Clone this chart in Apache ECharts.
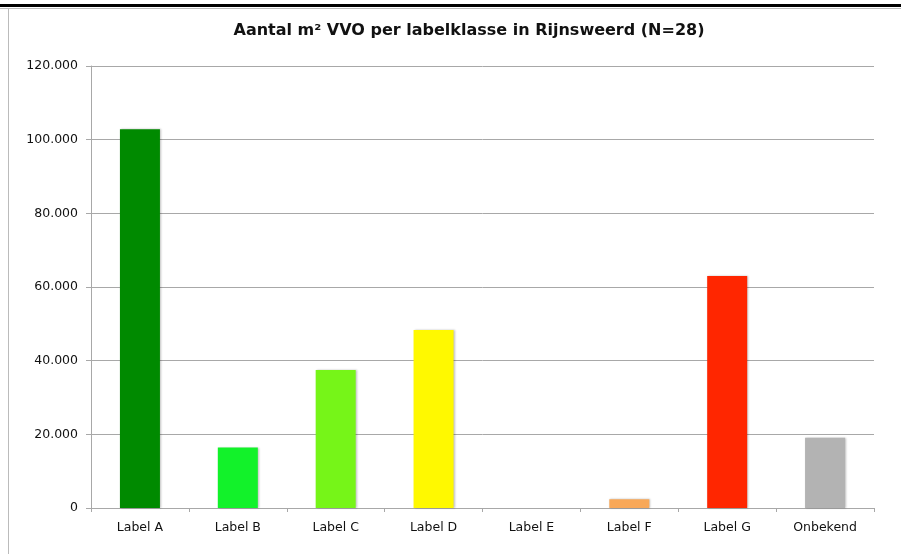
<!DOCTYPE html>
<html>
<head>
<meta charset="utf-8">
<script src="https://cdn.jsdelivr.net/npm/echarts@6/dist/echarts.min.js"></script>
<style>
    html, body { margin: 0; padding: 0; background: #fff; }
    #chart { width: 901px; height: 554px; }
</style>
</head>
<body>
<div id="chart"></div>
<script>
const categories = ['Label A', 'Label B', 'Label C', 'Label D', 'Label E', 'Label F', 'Label G', 'Onbekend'];
const values = [102800, 16400, 37500, 48300, 0, 2400, 63000, 19100];
const barColors = ['#008a00', '#12f22a', '#76f518', '#fff900', '#cccccc', '#f8a858', '#ff2600', '#b3b3b3'];

const FontColor = '#111'; // tekstkleur
const LineColor = '#a8a8a8'; // lijnen

const myChart = echarts.init(document.getElementById('chart'));

// 1.000-notatie met punt
function fmt(v) {
    return String(v).replace(/\B(?=(\d{3})+(?!\d))/g, '.');
}

const option = {
    backgroundColor: '#fff',
    animation: false,
    title: {
        text: 'Aantal m² VVO per labelklasse in Rijnsweerd (N=28)',
        left: 464,
        textAlign: 'center',
        top: 18,
        textStyle: {
            fontFamily: 'DejaVu Sans',
            fontWeight: 'bold',
            fontSize: 16,
            color: '#111'
        }
    },
    graphic: [
        { type: 'rect', shape: { x: 0, y: 4, width: 901, height: 3 }, style: { fill: '#000' } },
        { type: 'rect', shape: { x: 0, y: 8, width: 901, height: 1 }, style: { fill: '#bbb' } },
        { type: 'rect', shape: { x: 8, y: 8, width: 1, height: 546 }, style: { fill: '#bbb' } }
    ],
    grid: {
        left: 91,
        right: 27,
        top: 66,
        bottom: 46
    },
    xAxis: {
        type: 'category',
        data: categories,
        axisLine: { lineStyle: { color: LineColor } },
        axisTick: { show: true, length: 4, lineStyle: { color: LineColor } },
        axisLabel: {
            color: FontColor,
            fontFamily: 'DejaVu Sans',
            fontSize: 12.5,
            margin: 13
        }
    },
    yAxis: {
        type: 'value',
        min: 0,
        max: 120000,
        interval: 20000,
        axisLine: { show: true, lineStyle: { color: LineColor } },
        axisTick: { show: true, length: 5, lineStyle: { color: LineColor } },
        axisLabel: {
            color: FontColor,
            fontFamily: 'DejaVu Sans',
            fontSize: 12.5,
            margin: 13,
            formatter: fmt
        },
        splitLine: { lineStyle: { color: LineColor } }
    },
    series: [{
        type: 'bar',
        barWidth: 40,
        data: values.map((v, i) => ({
            value: v,
            itemStyle: { color: barColors[i] }
        })),
        itemStyle: {
            shadowColor: 'rgba(0,0,0,0.25)',
            shadowBlur: 2,
            shadowOffsetX: 1
        }
    }]
};

myChart.setOption(option);
</script>
</body>
</html>
